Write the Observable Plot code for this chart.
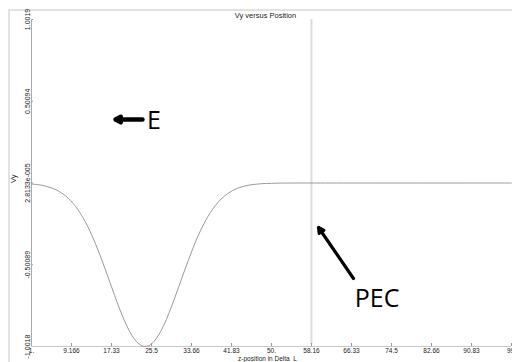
<!DOCTYPE html>
<html>
<head>
<meta charset="utf-8">
<script src="https://cdn.jsdelivr.net/npm/d3@7"></script>
<script src="https://cdn.jsdelivr.net/npm/@observablehq/plot@0.6"></script>
<style>
  html, body { margin: 0; padding: 0; background: #fff; }
  #wrap { position: relative; width: 512px; height: 362px; overflow: hidden; }
  #frame { position: absolute; left: 8px; top: 9px; width: 600px; height: 400px;
           border-top: 2px solid #e2e2e2; border-left: 2px solid #e2e2e2; }
  #chart { position: absolute; left: 0; top: 0; }
</style>
</head>
<body>
<div id="wrap"><div id="frame"></div><div id="chart"></div></div>
<script>
// z-position (in Delta_L) samples and Vy values
const zPos = [1,2,3,4,5,6,7,8,9,10,11,12,13,14,15,16,17,18,19,20,21,22,23,24,25,26,27,28,29,30,
  31,32,33,34,35,36,37,38,39,40,41,42,43,44,45,46,47,48,49,50,51,52,53,56,60,70,80,90,99];
const vy = [-0.006,-0.009,-0.013,-0.020,-0.029,-0.041,-0.058,-0.080,-0.108,-0.143,-0.187,-0.238,-0.299,-0.368,-0.443,-0.524,-0.608,-0.691,-0.772,-0.845,
  -0.908,-0.956,-0.988,-1.0014,-0.996,-0.971,-0.929,-0.872,-0.802,-0.724,
  -0.641,-0.557,-0.475,-0.397,-0.325,-0.262,-0.206,-0.160,-0.121,-0.090,-0.066,-0.047,-0.033,-0.023,-0.015,-0.010,-0.007,-0.004,-0.003,-0.002,-0.001,-0.0005,-0.0003,
  0.00003,0.00003,0.00003,0.00003,0.00003,0.00003];

// axis ticks
const xTicks = [1, 9.1667, 17.333, 25.5, 33.667, 41.833, 50, 58.167, 66.333, 74.5, 82.667, 90.833, 99];
const xTickLabels = ["1.", "9.166", "17.33", "25.5", "33.66", "41.83", "50.", "58.16", "66.33", "74.5", "82.66", "90.83", "99."];
const yTicks = [1.0019, 0.50094, 2.8133e-5, -0.50089, -1.0018];
const yTickLabels = ["1.0019", "0.50094", "2.8133e-005", "-0.50089", "-1.0018"];

// texts
const titleText = "Vy versus Position";
const xLabel = "z-position in Delta_L";
const yLabel = "Vy";

// PEC boundary position
const pecZ = [58.16];

// annotations (data units)
const arrows = [
  {name: "E", z1: 23.66, v1: 0.389, z2: 18.15, v2: 0.389, w: 4.5},
  {name: "PEC", z1: 66.74, v1: -0.585, z2: 59.6, v2: -0.2726, w: 3.2}
];
const labels = [
  {text: "E", z: 24.6, v: 0.383},
  {text: "PEC", z: 67.0, v: -0.712}
];

const data = zPos.map((z, i) => ({z, vy: vy[i]}));
const fontTick = "Liberation Sans, Arial, sans-serif";

const chart = Plot.plot({
  width: 512,
  height: 362,
  marginLeft: 31,
  marginRight: 1,
  marginTop: 19,
  marginBottom: 16,
  style: {background: "transparent", fontFamily: fontTick},
  x: {domain: [1, 99]},
  y: {domain: [-1.0018, 1.0019]},
  marks: [
    Plot.ruleX(pecZ, {stroke: "#dcdcdc", strokeWidth: 2, y1: -1.0018, y2: 1.0019, insetTop: -2}),
    Plot.axisX({ticks: xTicks, tickFormat: (d, i) => xTickLabels[i], tickSize: -3, tickPadding: 5,
      fontSize: 6.5, stroke: "#999", fill: "#222", label: null}),
    Plot.axisY({ticks: yTicks, tickFormat: (d, i) => yTickLabels[i], tickSize: -2, tickPadding: 4,
      tickRotate: -90, fontSize: 7, stroke: "#999", fill: "#222", label: null}),
    Plot.ruleX([1], {stroke: "#aaa"}),
    Plot.ruleY([-1.0018], {stroke: "#c8c8c8"}),
    Plot.line(data, {x: "z", y: "vy", stroke: "#9a9a9a", strokeWidth: 1, curve: "catmull-rom"}),
    Plot.arrow(arrows, {x1: "z1", y1: "v1", x2: "z2", y2: "v2", stroke: "black",
      strokeWidth: "w", headLength: 9, headAngle: 55}),
    Plot.text(labels, {x: "z", y: "v", text: "text", textAnchor: "start", fontSize: 25,
      fontFamily: "Open Sans, sans-serif", fill: "black"}),
    Plot.text([titleText], {frameAnchor: "top", dy: -7, dx: -6, fontSize: 7.5, fill: "#222"}),
    Plot.text([xLabel], {frameAnchor: "bottom", dy: 12.5, dx: -4, lineAnchor: "middle", fontSize: 6.5, fill: "#222"}),
    Plot.text([yLabel], {frameAnchor: "left", dx: -18, rotate: -90, fontSize: 7.5, fill: "#222"})
  ]
});
document.getElementById("chart").appendChild(chart);
</script>
</body>
</html>
